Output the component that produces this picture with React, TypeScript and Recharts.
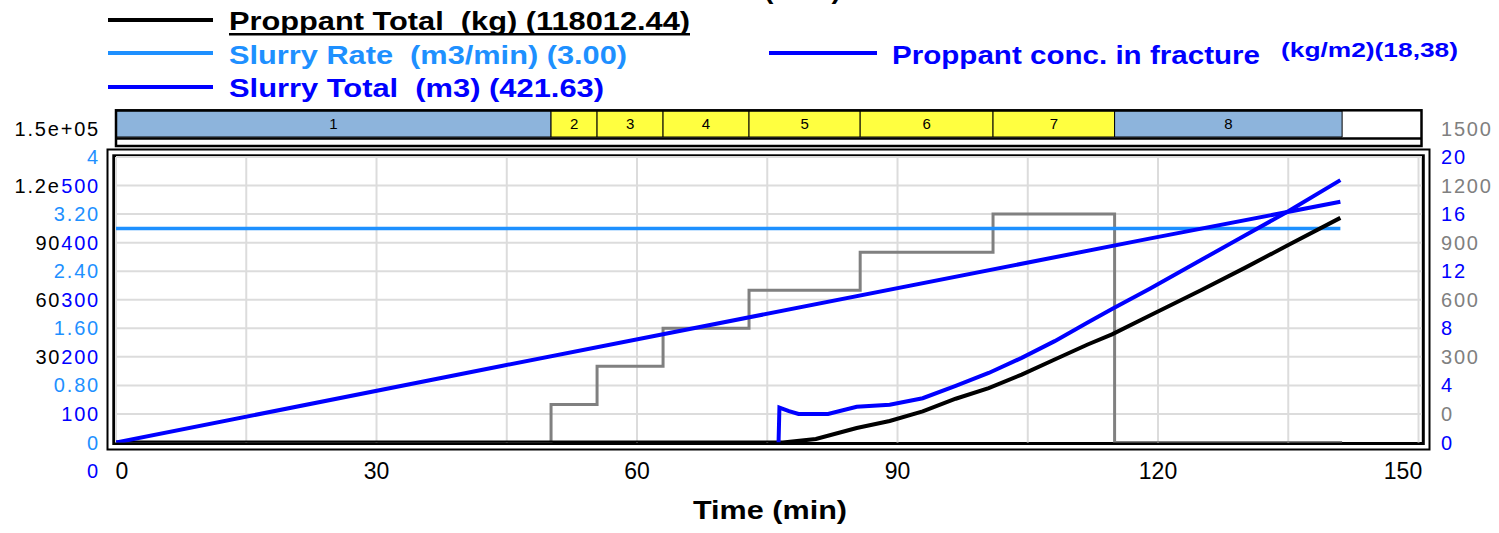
import React from 'react';
import { ComposedChart, Line, XAxis, YAxis, ReferenceLine, BarChart, Bar, LabelList } from 'recharts';

// ---------- axes / ticks ----------
const timeTicks = [0, 30, 60, 90, 120, 150];
const timeTickLabels = ['0', '30', '60', '90', '120', '150'];
const timeGrid = [0, 15, 30, 45, 60, 75, 90, 105, 120, 135, 150];
const rateGrid = [0.4, 0.8, 1.2, 1.6, 2.0, 2.4, 2.8, 3.2, 3.6, 4.0];

const rateTicks = [0, 0.8, 1.6, 2.4, 3.2, 4];
const rateTickLabels = ['0', '0.80', '1.60', '2.40', '3.20', '4'];
const slurryTicks = [0, 100, 200, 300, 400, 500];
const slurryTickLabels = ['0', '100', '200', '300', '400', '500'];
const propTicks = [0, 30000, 60000, 90000, 120000, 150000];
const propTickLabels = ['0', '30000', '60000', '90000', '1.2e+05', '1.5e+05'];
const concTicks = [0, 300, 600, 900, 1200, 1500];
const concTickLabels = ['0', '300', '600', '900', '1200', '1500'];
const fracTicks = [0, 4, 8, 12, 16, 20];
const fracTickLabels = ['0', '4', '8', '12', '16', '20'];

// ---------- stages ----------
const stageNames = ['1', '2', '3', '4', '5', '6', '7', '8'];
const stageEnds = [50.1, 55.4, 63.0, 72.9, 85.7, 101.0, 115.0, 141.2];
const stageConc = [0, 200, 400, 600, 800, 1000, 1200, 0];
const stageKinds = ['pad', 'slurry', 'slurry', 'slurry', 'slurry', 'slurry', 'slurry', 'flush'];

// ---------- series ----------
const rateTime = [0, 141.0];
const rateValues = [3.0, 3.0];

const slurryTime = [0, 44.4, 119.0, 141.0];
const slurryValues = [0, 134, 357, 421.63];

const propTime = [0, 76.8, 80.6, 85.3, 89.1, 92.9, 96.7, 100.5, 104.3, 108.1, 111.9, 114.7, 119.0, 125, 130, 135, 141.0];
const propValues = [0, 0, 1840, 7600, 11300, 16300, 23000, 28600, 35700, 43600, 51500, 56800, 66600, 80100, 91750, 103750, 118012.44];

const fracTime = [76.3, 76.4, 77.5, 78.6, 82.0, 85.3, 89.1, 92.9, 96.7, 100.5, 104.3, 108.1, 111.9, 114.7, 119.0, 125, 130, 135, 141.0];
const fracValues = [0, 2.45, 2.2, 2.0, 2.0, 2.5, 2.64, 3.1, 3.96, 4.87, 5.93, 7.1, 8.4, 9.35, 10.75, 12.8, 14.5, 16.2, 18.38];

// ---------- styles ----------
const C_BLACK = '#000000';
const C_LIGHT = '#1E90FF';
const C_BLUE = '#0000FF';
const C_GRAY = '#808080';
const KIND_COLOR: Record<string, string> = { pad: '#8DB4DC', slurry: '#FFFF40', flush: '#8DB4DC' };
const FONT = "'Liberation Sans', Arial, sans-serif";
const HALF = 28.5;
const X_DOMAIN: [number, number] = [0, 150.4];
const NB = '\u00A0';

const zip = (t: number[], v: number[]) => t.map((tt, i) => ({ t: tt, v: v[i] }));
const rateData = zip(rateTime, rateValues);
const slurryData = zip(slurryTime, slurryValues);
const propData = zip(propTime, propValues);
const fracData = zip(fracTime, fracValues);
const concData = [
  ...stageConc.map((c, i) => ({ t: i === 0 ? 0 : stageEnds[i - 1], v: c })),
  { t: stageEnds[stageEnds.length - 1], v: stageConc[stageConc.length - 1] },
];
const stageRow = [
  stageNames.reduce((acc: any, n, i) => {
    acc['s' + i] = stageEnds[i] - (i === 0 ? 0 : stageEnds[i - 1]);
    return acc;
  }, { name: 'stages' }),
];

function lookup(ticks: number[], labels: string[], v: number) {
  const i = ticks.findIndex((t) => Math.abs(t - v) < 1e-9);
  return i >= 0 ? labels[i] : String(v);
}

// labels are anchored to fixed text columns (left column right edge / right column left edge)
const LEFT_TEXT_END = 100;
const RIGHT_TEXT_START = 1441;

function makeYTick(ticks: number[], labels: string[], color: string, side: 'left' | 'right', shift: number, bg: boolean) {
  return (props: any) => {
    const { y, payload } = props;
    const label = lookup(ticks, labels, payload.value);
    const ty = y + shift + 7;
    if (side === 'left') {
      const xe = LEFT_TEXT_END;
      const w = label.length * 12.8;
      return (
        <g>
          {bg && <rect x={xe - w - 2} y={ty - 17} width={w + 2} height={21} fill="#ffffff" />}
          <text x={xe} y={ty} textAnchor="end" fill={color} fontSize={20} fontFamily={FONT} letterSpacing={1.8}>
            {label}
          </text>
        </g>
      );
    }
    return (
      <text x={RIGHT_TEXT_START} y={ty} textAnchor="start" fill={color} fontSize={20} fontFamily={FONT} letterSpacing={1.8}>
        {label}
      </text>
    );
  };
}

const XTick = (props: any) => {
  const { x, y, payload } = props;
  const v = payload.value;
  const dx = v === timeTicks[0] ? 6 : v === timeTicks[timeTicks.length - 1] ? -15.5 : 0;
  return (
    <text x={x + dx} y={y + 36.5} textAnchor="middle" fill="#000" fontSize={23} fontFamily={FONT}>
      {lookup(timeTicks, timeTickLabels, v)}
    </text>
  );
};

const axisCommon = {
  interval: 0 as const,
  width: 1,
  axisLine: false,
  tickLine: false,
  tickSize: 0,
  tickMargin: 0,
  allowDataOverflow: true,
};

export default function App() {
  return (
    <div style={{ position: 'absolute', left: 0, top: 0, width: 1499, height: 533, background: '#fff', overflow: 'hidden' }}>
      {/* legend + frames (beneath) */}
      <svg width={1499} height={533} style={{ position: 'absolute', left: 0, top: 0 }}>
        <text x={764} y={-1} fontSize={26} fontWeight="bold" fontFamily={FONT} fill="#000" textLength={77} lengthAdjust="spacingAndGlyphs">(MPa)</text>
        <line x1={108} x2={213} y1={20} y2={20} stroke={C_BLACK} strokeWidth={4} />
        <text x={229} y={30} fontSize={26} fontWeight="bold" fontFamily={FONT} fill={C_BLACK} textLength={461} lengthAdjust="spacingAndGlyphs">{`Proppant Total ${NB}(kg) (118012.44)`}</text>
        <rect x={229} y={33} width={461} height={2.5} fill={C_BLACK} />
        <line x1={108} x2={213} y1={53} y2={53} stroke={C_LIGHT} strokeWidth={4} />
        <text x={229} y={63.5} fontSize={26} fontWeight="bold" fontFamily={FONT} fill={C_LIGHT} textLength={398} lengthAdjust="spacingAndGlyphs">{`Slurry Rate ${NB}(m3/min) (3.00)`}</text>
        <line x1={108} x2={213} y1={87} y2={87} stroke={C_BLUE} strokeWidth={4} />
        <text x={229} y={96.5} fontSize={26} fontWeight="bold" fontFamily={FONT} fill={C_BLUE} textLength={375} lengthAdjust="spacingAndGlyphs">{`Slurry Total ${NB}(m3) (421.63)`}</text>
        <line x1={769} x2={877} y1={53} y2={53} stroke={C_BLUE} strokeWidth={4} />
        <text x={892} y={63.5} fontSize={26} fontWeight="bold" fontFamily={FONT} fill={C_BLUE} textLength={368} lengthAdjust="spacingAndGlyphs">Proppant conc. in fracture</text>
        <text x={1281} y={57} fontSize={21} fontWeight="bold" fontFamily={FONT} fill={C_BLUE} textLength={177} lengthAdjust="spacingAndGlyphs">(kg/m2)(18,38)</text>
        <rect x={107.5} y={149.5} width={1322} height={300} fill="none" stroke="#000" strokeWidth={2} />
        <rect x={113.8} y={155.8} width={1309.5} height={287.7} fill="none" stroke="#000" strokeWidth={3} />
        <text x={693} y={519} fontSize={25} fontWeight="bold" fontFamily={FONT} fill="#000" textLength={154} lengthAdjust="spacingAndGlyphs">Time (min)</text>
      </svg>

      {/* main chart */}
      <div style={{ position: 'absolute', left: 0, top: 0 }}>
        <ComposedChart width={1499} height={533} margin={{ top: 157, right: 75, bottom: 60.5, left: 113 }}>
          <XAxis
            type="number"
            dataKey="t"
            domain={X_DOMAIN}
            ticks={timeTicks}
            interval={0}
            allowDataOverflow
            axisLine={false}
            tickLine={false}
            tickSize={0}
            tickMargin={0}
            height={30}
            tick={<XTick />}
          />
          <YAxis yAxisId="prop" orientation="left" domain={[0, 150000]} ticks={propTicks} {...axisCommon} tick={makeYTick(propTicks, propTickLabels, C_BLACK, 'left', -HALF, false)} />
          <YAxis yAxisId="slurry" orientation="left" domain={[0, 500]} ticks={slurryTicks} {...axisCommon} tick={makeYTick(slurryTicks, slurryTickLabels, C_BLUE, 'left', HALF, true)} />
          <YAxis yAxisId="rate" orientation="left" domain={[0, 4]} ticks={rateTicks} {...axisCommon} tick={makeYTick(rateTicks, rateTickLabels, C_LIGHT, 'left', 0, false)} />
          <YAxis yAxisId="conc" orientation="right" domain={[0, 1500]} ticks={concTicks} {...axisCommon} tick={makeYTick(concTicks, concTickLabels, C_GRAY, 'right', -HALF, false)} />
          <YAxis yAxisId="frac" orientation="right" domain={[0, 20]} ticks={fracTicks} {...axisCommon} tick={makeYTick(fracTicks, fracTickLabels, C_BLUE, 'right', 0, false)} />

          {timeGrid.map((g) => (
            <ReferenceLine key={'vx' + g} x={g} yAxisId="rate" stroke="#DCDCDC" strokeWidth={2} ifOverflow="visible" />
          ))}
          {rateGrid.map((g) => (
            <ReferenceLine key={'hy' + g} y={g} yAxisId="rate" stroke="#DCDCDC" strokeWidth={2} ifOverflow="visible" />
          ))}

          <Line data={concData} dataKey="v" yAxisId="conc" type="stepAfter" stroke={C_GRAY} strokeWidth={3} dot={false} activeDot={false} isAnimationActive={false} />
          <Line data={rateData} dataKey="v" yAxisId="rate" type="linear" stroke={C_LIGHT} strokeWidth={3.5} dot={false} activeDot={false} isAnimationActive={false} />
          <Line data={propData} dataKey="v" yAxisId="prop" type="linear" stroke={C_BLACK} strokeWidth={4} dot={false} activeDot={false} isAnimationActive={false} />
          <Line data={fracData} dataKey="v" yAxisId="frac" type="linear" stroke={C_BLUE} strokeWidth={4} dot={false} activeDot={false} isAnimationActive={false} />
          <Line data={slurryData} dataKey="v" yAxisId="slurry" type="linear" stroke={C_BLUE} strokeWidth={4} dot={false} activeDot={false} isAnimationActive={false} />
        </ComposedChart>
      </div>

      {/* stage bar */}
      <div style={{ position: 'absolute', left: 0, top: 0 }}>
        <BarChart width={1499} height={150} layout="vertical" data={stageRow} margin={{ top: 111, right: 77, bottom: 13, left: 116 }} barCategoryGap={0} barGap={0}>
          <XAxis type="number" domain={X_DOMAIN} hide height={0} allowDataOverflow />
          <YAxis type="category" dataKey="name" hide width={0} />
          {stageNames.map((n, i) => (
            <Bar key={n} dataKey={'s' + i} stackId="st" fill={KIND_COLOR[stageKinds[i]]} stroke="#000" strokeWidth={1} isAnimationActive={false}>
              <LabelList dataKey={'s' + i} position="center" formatter={() => n} fill="#000" fontSize={15} fontFamily={FONT} />
            </Bar>
          ))}
        </BarChart>
      </div>

      {/* stage bar borders (on top) */}
      <svg width={1499} height={160} style={{ position: 'absolute', left: 0, top: 0, pointerEvents: 'none' }}>
        <rect x={116} y={110.3} width={1305.5} height={35.7} fill="none" stroke="#000" strokeWidth={2.5} />
        <line x1={116} x2={1421.5} y1={138.5} y2={138.5} stroke="#000" strokeWidth={2.5} />
      </svg>
    </div>
  );
}
